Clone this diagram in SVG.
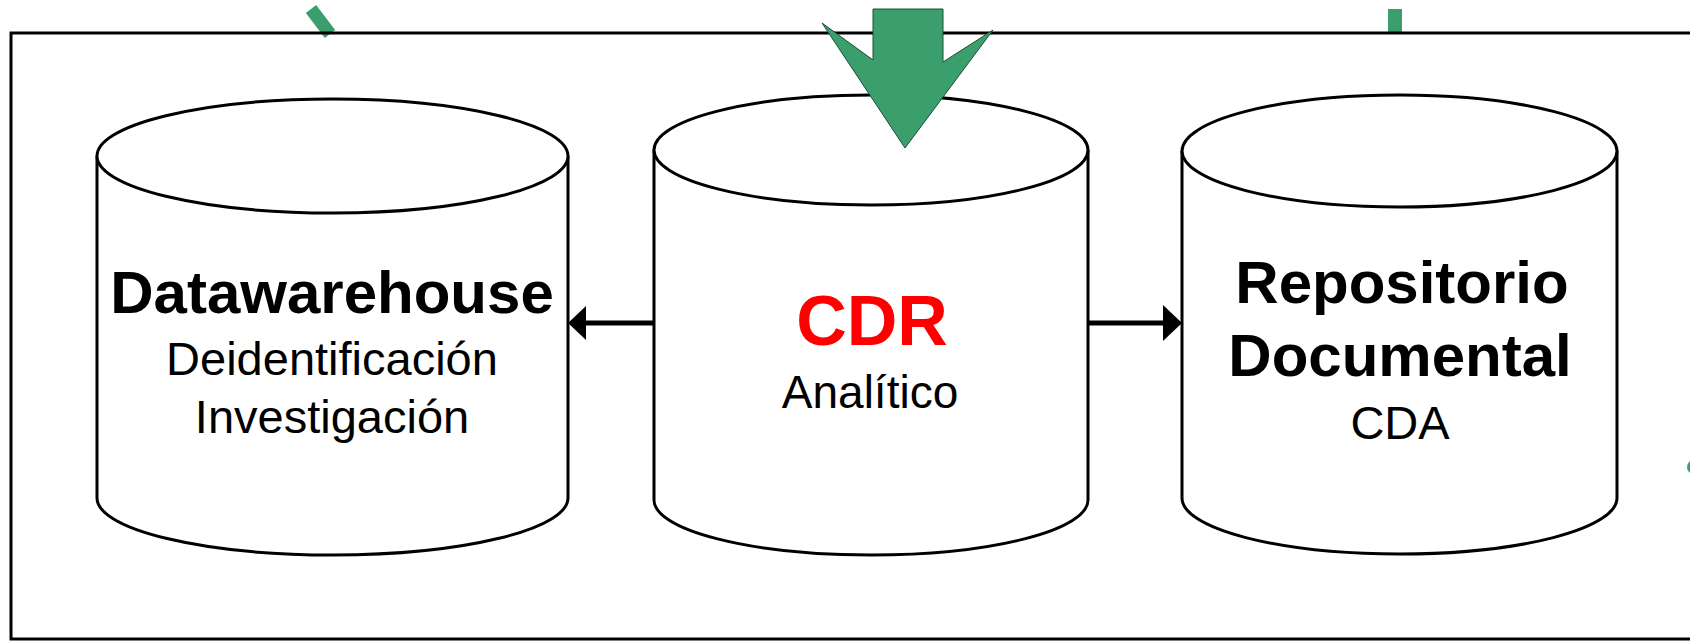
<svg xmlns="http://www.w3.org/2000/svg" width="1690" height="642" viewBox="0 0 1690 642">
<style>
.cyl{fill:#fff;stroke:#000;stroke-width:3}
.b{font-family:"Liberation Sans",Arial,sans-serif;font-weight:bold;text-anchor:middle}
.r{font-family:"Liberation Sans",Arial,sans-serif;text-anchor:middle;fill:#000}
.conn{stroke:#000;stroke-width:5;fill:none}
.head{fill:#000}
.green{fill:#3b9f6d}
</style>
<rect x="0" y="0" width="1690" height="642" fill="#fff"/>
<g id="green-lines">
<line x1="311" y1="9" x2="330" y2="34" stroke="#3b9f6d" stroke-width="13"/>
<line x1="1395" y1="9" x2="1395" y2="34" stroke="#3b9f6d" stroke-width="14"/>
<circle cx="1694" cy="467" r="7" class="green"/>
</g>
<g id="frame">
<rect x="11" y="33" width="1700" height="606" fill="none" stroke="#000" stroke-width="3"/>
</g>
<g id="datawarehouse">
<path class="cyl" d="M97,156 L97,498 A235.5,57 0 0 0 568,498 L568,156 A235.5,57 0 0 0 97,156 Z"/>
<path class="cyl" d="M97,156 A235.5,57 0 0 0 568,156"/>
<text class="b" x="332" y="313" font-size="60">Datawarehouse</text>
<text class="r" x="332" y="375" font-size="47">Deidentificación</text>
<text class="r" x="332" y="433" font-size="47">Investigación</text>
</g>
<g id="cdr">
<path class="cyl" d="M654,150 L654,500 A217,55 0 0 0 1088,500 L1088,150 A217,55 0 0 0 654,150 Z"/>
<path class="cyl" d="M654,150 A217,55 0 0 0 1088,150"/>
<text class="b" x="872" y="345" font-size="70" fill="#ff0000">CDR</text>
<text class="r" x="870" y="408" font-size="46">Analítico</text>
</g>
<g id="repositorio">
<path class="cyl" d="M1182,151 L1182,498 A217.5,56 0 0 0 1617,498 L1617,151 A217.5,56 0 0 0 1182,151 Z"/>
<path class="cyl" d="M1182,151 A217.5,56 0 0 0 1617,151"/>
<text class="b" x="1402" y="303" font-size="60">Repositorio</text>
<text class="b" x="1400" y="376" font-size="60">Documental</text>
<text class="r" x="1400" y="439" font-size="47">CDA</text>
</g>
<g id="connectors">
<line class="conn" x1="654" y1="323" x2="584" y2="323"/>
<polygon class="head" points="568,323 586,306 586,340"/>
<line class="conn" x1="1088" y1="323" x2="1165" y2="323"/>
<polygon class="head" points="1182,323 1163,305 1163,341"/>
</g>
<g id="input-arrow">
<polygon class="green" stroke="#1f4d36" stroke-width="1" points="873,9 943,9 943,62 993,30 905,148 822,23 873,60"/>
</g>
</svg>
